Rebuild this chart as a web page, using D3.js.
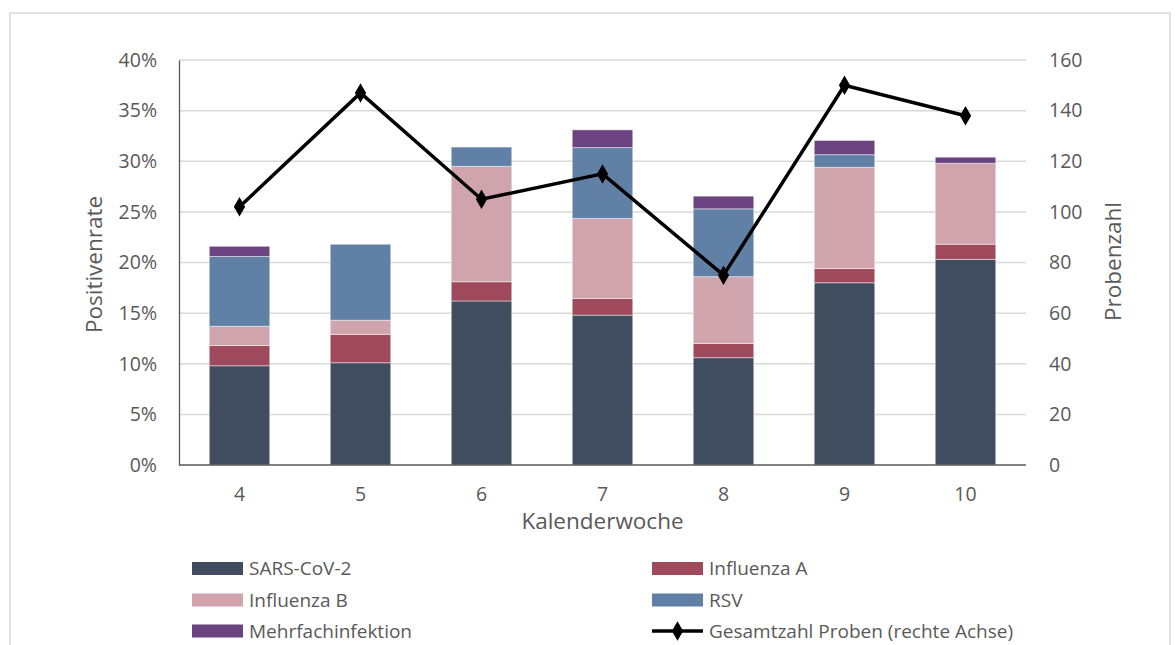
<!DOCTYPE html>
<html><head><meta charset="utf-8">
<script src="https://cdn.jsdelivr.net/npm/d3@7"></script>
<style>body{margin:0;background:#fff}svg{display:block}</style>
</head><body>
<script>
const weeks = ["4","5","6","7","8","9","10"];
const seriesNames = ["SARS-CoV-2","Influenza A","Influenza B","RSV","Mehrfachinfektion"];
const sarsCov2 = [9.8, 10.1, 16.2, 14.8, 10.6, 18.0, 20.3];
const influenzaA = [2.0, 2.8, 1.9, 1.65, 1.4, 1.4, 1.5];
const influenzaB = [1.9, 1.4, 11.4, 7.9, 6.6, 10.0, 8.0];
const rsv = [6.9, 7.5, 1.9, 7.0, 6.7, 1.25, 0];
const mehrfach = [1.0, 0, 0, 1.75, 1.25, 1.4, 0.6];
const proben = [102, 147, 105, 115, 75, 150, 138];
const leftTicks = [0,5,10,15,20,25,30,35,40];
const rightTicks = [0,20,40,60,80,100,120,140,160];
const lineName = "Gesamtzahl Proben (rechte Achse)";
const colors = ["#3f4d5e","#9e4a5c","#cfa4ac","#6080a6","#6b4380"];

const W=1176,H=645;
const svg=d3.select("body").append("svg").attr("width",W).attr("height",H);
svg.append("rect").attr("x",10).attr("y",13).attr("width",1160).attr("height",700)
  .attr("fill","none").attr("stroke","#d9d9d9").attr("stroke-width",1.5);

const L=179,R=1026,T=60,B=465;
const x=d3.scaleBand().domain(weeks).range([L,R]).paddingInner(0.5).paddingOuter(0.25);
const y=d3.scaleLinear().domain([0,40]).range([B,T]);
const y2=d3.scaleLinear().domain([0,160]).range([B,T]);
const font="'Open Sans', sans-serif";
const txt="#595959";

// gridlines
svg.append("g").selectAll("line").data(leftTicks.slice(1)).join("line")
  .attr("x1",L).attr("x2",R).attr("y1",d=>y(d)).attr("y2",d=>y(d))
  .attr("stroke","#d9d9d9").attr("stroke-width",1.5);

// stacked data
const table=weeks.map((w,i)=>({week:w,"SARS-CoV-2":sarsCov2[i],"Influenza A":influenzaA[i],"Influenza B":influenzaB[i],"RSV":rsv[i],"Mehrfachinfektion":mehrfach[i]}));
const stack=d3.stack().keys(seriesNames)(table);
const gB=svg.append("g");
stack.forEach((s,k)=>{
  gB.append("g").selectAll("rect").data(s.filter(d=>d[1]-d[0]>0)).join("rect")
    .attr("x",d=>x(d.data.week)).attr("width",x.bandwidth())
    .attr("y",d=>y(d[1])).attr("height",d=>y(d[0])-y(d[1]))
    .attr("fill",colors[k]).attr("stroke","#ffffff").attr("stroke-opacity",0.45).attr("stroke-width",1);
});

// axes
const axL=svg.append("g").attr("transform",`translate(${L},0)`)
  .call(d3.axisLeft(y).tickValues(leftTicks).tickFormat(d=>d+"%").tickSize(0).tickPadding(22));
axL.select(".domain").attr("stroke","#595959").attr("stroke-width",1.3);
axL.selectAll("text").attr("font-family",font).attr("font-size",19.5).attr("fill",txt);

const axR=svg.append("g").attr("transform",`translate(${R},0)`)
  .call(d3.axisRight(y2).tickValues(rightTicks).tickSize(0).tickPadding(23));
axR.select(".domain").remove();
axR.selectAll("text").attr("font-family",font).attr("font-size",19.5).attr("fill",txt);

const axB=svg.append("g").attr("transform",`translate(0,${B})`)
  .call(d3.axisBottom(x).tickSize(0).tickPadding(22));
axB.select(".domain").attr("stroke","#595959").attr("stroke-width",1.5).attr("d",`M${L},0H${R}`);
axB.selectAll("text").attr("font-family",font).attr("font-size",19.5).attr("fill",txt);

// axis titles
svg.append("text").attr("transform",`translate(102,${(T+B)/2+2}) rotate(-90)`)
  .attr("text-anchor","middle").attr("font-family",font).attr("font-size",22.5).attr("fill",txt).text("Positivenrate");
svg.append("text").attr("transform",`translate(1121,${(T+B)/2-1}) rotate(-90)`)
  .attr("text-anchor","middle").attr("font-family",font).attr("font-size",22.5).attr("fill",txt).text("Probenzahl");
svg.append("text").attr("x",(L+R)/2).attr("y",529)
  .attr("text-anchor","middle").attr("font-family",font).attr("font-size",22.5).attr("fill",txt).text("Kalenderwoche");

// line
const cx=d=>x(d)+x.bandwidth()/2;
svg.append("path").datum(weeks.map((w,i)=>[cx(w),y2(proben[i])]))
  .attr("d",d3.line()).attr("fill","none").attr("stroke","#000").attr("stroke-width",3.5);
const diamond=d3.symbol().type(d3.symbolDiamond).size(110);
svg.append("g").selectAll("path").data(proben).join("path")
  .attr("transform",(d,i)=>`translate(${cx(weeks[i])},${y2(d)})`).attr("d",diamond()).attr("fill","#000");

// legend
const legItems=[
  {name:seriesNames[0],type:"bar",c:colors[0],col:0,row:0},
  {name:seriesNames[1],type:"bar",c:colors[1],col:1,row:0},
  {name:seriesNames[2],type:"bar",c:colors[2],col:0,row:1},
  {name:seriesNames[3],type:"bar",c:colors[3],col:1,row:1},
  {name:seriesNames[4],type:"bar",c:colors[4],col:0,row:2},
  {name:lineName,type:"line",c:"#000",col:1,row:2}
];
const colX=[192,652], rowY=[568.5,600,631];
const lg=svg.append("g");
legItems.forEach(it=>{
  const gx=colX[it.col], gy=rowY[it.row];
  if(it.type==="bar"){
    lg.append("rect").attr("x",gx).attr("y",gy-6.5).attr("width",51).attr("height",13).attr("fill",it.c);
  } else {
    lg.append("line").attr("x1",gx).attr("x2",gx+51).attr("y1",gy).attr("y2",gy).attr("stroke","#000").attr("stroke-width",3.5);
    lg.append("path").attr("transform",`translate(${gx+25.5},${gy})`).attr("d",diamond()).attr("fill","#000");
  }
  lg.append("text").attr("x",gx+57).attr("y",gy).attr("dy","0.35em")
    .attr("font-family",font).attr("font-size",19).attr("fill",txt).text(it.name);
});
</script>
</body></html>
